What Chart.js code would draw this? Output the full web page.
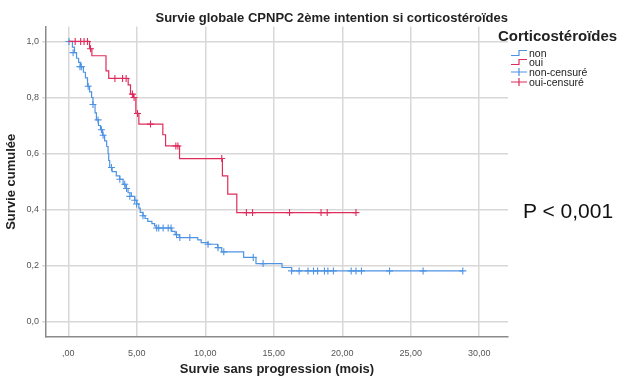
<!DOCTYPE html>
<html>
<head>
<meta charset="utf-8">
<script src="https://cdn.jsdelivr.net/npm/chart.js@4.4.1/dist/chart.umd.min.js"></script>
<style>
  body { margin: 0; background: #fff; }
  #wrap { position: relative; width: 619px; height: 377px; }
  #legend {
    position: absolute; left: 498px; top: 27px;
    font-family: 'Liberation Sans', sans-serif;
    color: #222;
  }
  #legend .ttl { font-weight: bold; font-size: 15px; margin-bottom: 4px; }
  #legend .row { display: flex; align-items: center; height: 9.6px; font-size: 10.5px; padding-left: 12px; }
  #legend svg { margin-right: 1px; }
  #pval {
    position: absolute; left: 523px; top: 199px;
    font-family: 'Liberation Sans', Arial, sans-serif; font-size: 21px; color: #111;
  }
</style>
</head>
<body>
<div id="wrap">
  <canvas id="km" width="619" height="377"></canvas>
  <div id="legend"></div>
  <div id="pval">P &lt; 0,001</div>
</div>
<script>
// ── Data ────────────────────────────────────────────────────
const xTicks = [0, 5, 10, 15, 20, 25, 30];
const yTicks = [0, 0.2, 0.4, 0.6, 0.8, 1.0];

// non : event times / survival after each step
const nonTimes = [0, 0.3, 0.45, 0.6, 0.75, 0.9, 1.1, 1.25, 1.4, 1.55, 1.7, 1.8, 1.95, 2.05, 2.2, 2.35,
  2.5, 2.65, 2.8, 2.9, 2.95, 3.02, 3.2, 3.5, 3.75, 4.0, 4.2, 4.36, 4.6, 4.85, 5.0, 5.15, 5.25, 5.45,
  5.6, 5.8, 6.1, 6.3, 6.42, 7.55, 7.8, 8.1, 9.45, 9.7, 10.2, 10.9, 11.2, 12.8, 13.7, 15.6, 16.3, 28.8];
const nonSurv = [1.0, 0.98, 0.96, 0.94, 0.925, 0.91, 0.89, 0.87, 0.84, 0.82, 0.80, 0.775, 0.745, 0.72, 0.70, 0.685,
  0.665, 0.645, 0.625, 0.60, 0.575, 0.55, 0.535, 0.52, 0.508, 0.49, 0.475, 0.46, 0.447, 0.433, 0.42, 0.405, 0.39, 0.378,
  0.368, 0.358, 0.35, 0.342, 0.334, 0.322, 0.31, 0.30, 0.292, 0.282, 0.276, 0.264, 0.249, 0.229, 0.207, 0.193, 0.181, 0.181];

const nonCensTimes = [0.05, 0.35, 0.85, 0.95, 1.45, 1.8, 2.17, 2.42, 2.54, 3.15, 3.76, 4.12, 4.25, 4.49, 4.85, 4.98,
  5.45, 6.45, 6.6, 6.92, 7.29, 7.5, 7.9, 8.14, 8.87, 10.2, 10.93, 11.35, 13.5, 14.22,
  16.3, 16.85, 17.5, 17.9, 18.2, 18.7, 18.95, 19.35, 20.65, 21.0, 21.4, 23.45, 25.9, 28.8];
const nonCensSurv = [1.0, 0.96, 0.91, 0.91, 0.84, 0.775, 0.72, 0.685, 0.665, 0.55, 0.508, 0.49, 0.475, 0.447, 0.433, 0.42,
  0.378, 0.334, 0.334, 0.334, 0.334, 0.334, 0.31, 0.30, 0.30, 0.276, 0.264, 0.249, 0.229, 0.207,
  0.181, 0.181, 0.181, 0.181, 0.181, 0.181, 0.181, 0.181, 0.181, 0.181, 0.181, 0.181, 0.181, 0.181];

// oui
const ouiTimes = [0, 1.55, 1.72, 2.75, 2.95, 4.37, 4.54, 4.75, 4.93, 5.15, 6.9, 7.1, 8.12, 11.25, 11.64, 12.3, 21.0];
const ouiSurv  = [1.0, 0.974, 0.949, 0.895, 0.868, 0.845, 0.812, 0.80, 0.743, 0.705, 0.667, 0.627, 0.582, 0.52, 0.455, 0.389, 0.389];

const ouiCensTimes = [0.5, 0.9, 1.15, 1.4, 1.62, 3.4, 3.96, 4.22, 4.68, 4.8, 5.05, 6.0, 7.85, 8.0, 11.2,
  13.0, 13.45, 16.15, 18.45, 18.9, 21.0];
const ouiCensSurv  = [1.0, 1.0, 1.0, 1.0, 0.974, 0.868, 0.868, 0.868, 0.812, 0.80, 0.743, 0.705, 0.627, 0.627, 0.582,
  0.389, 0.389, 0.389, 0.389, 0.389, 0.389];

const seriesNames = ['non', 'oui', 'non-censuré', 'oui-censuré'];

// ── Styling ─────────────────────────────────────────────────
const blue = '#4f93e3';
const red  = '#de2c5c';
const sans = "'Liberation Sans', Arial, sans-serif";
const gridColor = '#d8d8d8';
const axisColor = '#8a8a8a';

const pts = (xs, ys) => xs.map((x, i) => ({ x, y: ys[i] }));
const fixTicks = list => scale => { scale.ticks = list.map(v => ({ value: v })); };

new Chart(document.getElementById('km'), {
  type: 'line',
  data: {
    datasets: [
      { label: seriesNames[1], data: pts(ouiTimes, ouiSurv), borderColor: red, borderWidth: 1.2,
        stepped: true, pointRadius: 0, fill: false },
      { label: seriesNames[3], data: pts(ouiCensTimes, ouiCensSurv), borderColor: red, backgroundColor: red,
        showLine: false, pointStyle: 'cross', pointRadius: 3.5, borderWidth: 1.1 },
      { label: seriesNames[0], data: pts(nonTimes, nonSurv), borderColor: blue, borderWidth: 1.2,
        stepped: true, pointRadius: 0, fill: false },
      { label: seriesNames[2], data: pts(nonCensTimes, nonCensSurv), borderColor: blue, backgroundColor: blue,
        showLine: false, pointStyle: 'cross', pointRadius: 3.5, borderWidth: 1.1 },
    ],
  },
  options: {
    responsive: false,
    animation: false,
    layout: { padding: { left: 2, right: 111, top: 0, bottom: 0 } },
    plugins: {
      legend:  { display: false },
      tooltip: { enabled: false },
      title: {
        display: true,
        text: 'Survie globale CPNPC 2ème intention si corticostéroïdes',
        align: 'end',
        color: '#222',
        font: { family: sans, size: 13, weight: 'bold' },
        padding: { top: 11, bottom: 0 },
      },
    },
    scales: {
      x: {
        type: 'linear',
        min: -1.63, max: 32.1,
        afterBuildTicks: fixTicks(xTicks),
        afterFit: s => { s.height = 40; },
        ticks: {
          color: '#555', font: { family: sans, size: 9 }, padding: 11, maxRotation: 0,
          callback: v => v === 0 ? ',00' : v.toFixed(2).replace('.', ','),
        },
        grid:   { color: gridColor, lineWidth: 1.5, drawTicks: false },
        border: { color: axisColor, width: 1.5 },
        title: {
          display: true, text: 'Survie sans progression (mois)', color: '#222',
          font: { family: sans, size: 13, weight: 'bold' }, padding: { top: 0, bottom: 0 },
        },
      },
      y: {
        min: -0.055, max: 1.053,
        afterBuildTicks: fixTicks(yTicks),
        afterFit: s => { s.width = 44; },
        ticks: {
          color: '#555', font: { family: sans, size: 9 }, padding: 3,
          callback: v => v.toFixed(1).replace('.', ','),
        },
        grid:   { color: gridColor, lineWidth: 1.5, tickLength: 4 },
        border: { color: axisColor, width: 1.5 },
        title: {
          display: true, text: 'Survie cumulée', color: '#222',
          font: { family: sans, size: 13, weight: 'bold' }, padding: { top: 2, bottom: 0 },
        },
      },
    },
  },
});

// ── Legend (HTML) ───────────────────────────────────────────
const legendEl = document.getElementById('legend');
const stepIcon = c => `<svg width="18" height="8"><path d="M1 6.5 H9 V1.5 H17" stroke="${c}" stroke-width="1.2" fill="none"/></svg>`;
const crossIcon = c => `<svg width="18" height="8"><path d="M1 4 H17 M9 0 V8" stroke="${c}" stroke-width="1.2" fill="none"/></svg>`;
const entries = [
  [stepIcon(blue), seriesNames[0]],
  [stepIcon(red), seriesNames[1]],
  [crossIcon(blue), seriesNames[2]],
  [crossIcon(red), seriesNames[3]],
];
legendEl.innerHTML = '<div class="ttl">Corticostéroïdes</div>' +
  entries.map(([icon, txt]) => `<div class="row">${icon}<span>${txt}</span></div>`).join('');
</script>
</body>
</html>
